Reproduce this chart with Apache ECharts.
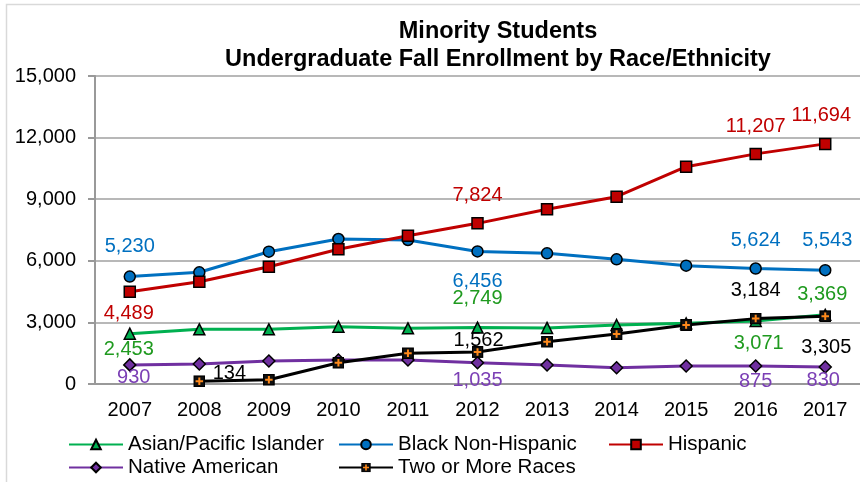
<!DOCTYPE html>
<html>
<head>
<meta charset="utf-8">
<script src="https://cdn.jsdelivr.net/npm/echarts@6/dist/echarts.min.js"></script>
<style>
html,body{margin:0;padding:0;background:#fff;}
#chart{width:860px;height:482px;}
</style>
</head>
<body>
<div id="chart"></div>
<script>
const years = ['2007','2008','2009','2010','2011','2012','2013','2014','2015','2016','2017'];
const yTicks = [0, 3000, 6000, 9000, 12000, 15000];
const asian = [2453, 2663, 2663, 2792, 2711, 2749, 2730, 2873, 2955, 3071, 3369];
const black = [5230, 5440, 6443, 7062, 7013, 6456, 6365, 6073, 5763, 5624, 5543];
const hispanic = [4489, 4982, 5713, 6560, 7223, 7824, 8508, 9122, 10583, 11207, 11694];
const native = [930, 974, 1120, 1169, 1169, 1035, 925, 794, 877, 875, 830];
const twoPlus = [null, 134, 210, 1038, 1494, 1562, 2062, 2435, 2873, 3184, 3305];

const FONT = "'Liberation Sans', Arial, sans-serif";

// label placement (styling): index -> [dx, dy]
const labelPos = {
  asian: {0:[-1,16], 5:[0,-29], 9:[3,23], 10:[-3,-20]},
  black: {0:[0,-30], 5:[0,30], 9:[0,-28], 10:[2,-30]},
  hispanic: {0:[-1,22], 5:[0,-28], 9:[0,-27], 10:[-4,-28]},
  native: {0:[4,13], 5:[0,18], 9:[0,15], 10:[-2,14]},
  twoPlus: {1:[30,-8], 5:[1,-11], 9:[0,-28], 10:[1,31]}
};

function buildData(arr, key, color) {
  return arr.map((v, i) => {
    const p = labelPos[key][i];
    if (v == null) return null;
    if (!p) return v;
    return {
      value: v,
      label: {
        show: true, position: 'inside', offset: p, color: color,
        fontSize: 20, fontFamily: FONT,
        formatter: (d) => Number(d.value).toLocaleString('en-US')
      }
    };
  });
}

const twoSym = 'image://data:image/svg+xml;charset=utf-8,' + encodeURIComponent(
  "<svg xmlns='http://www.w3.org/2000/svg' width='24' height='24'>" +
  "<rect x='1.5' y='1.5' width='21' height='21' fill='#111' stroke='#000' stroke-width='3'/>" +
  "<path d='M12 4.5V19.5M4.5 12H19.5' stroke='#ff8a1c' stroke-width='4'/></svg>");

function mkSeries(name, arr, key, lineColor, labelColor, symbol, fill, size) {
  return {
    name: name, type: 'line', data: buildData(arr, key, labelColor),
    symbol: symbol, symbolSize: size, showSymbol: true, connectNulls: false,
    lineStyle: {color: lineColor, width: 3},
    itemStyle: {color: fill, borderColor: '#000', borderWidth: 1.5},
    label: {show: false},
    emphasis: {disabled: true},
    animation: false
  };
}

const series = [
  mkSeries('Asian/Pacific Islander', asian, 'asian', '#00b050', '#1f9a1f', 'triangle', '#00b050', 11),
  mkSeries('Black Non-Hispanic', black, 'black', '#0070c0', '#0070c0', 'circle', '#0070c0', 11),
  mkSeries('Hispanic', hispanic, 'hispanic', '#c00000', '#c00000', 'rect', '#c00000', 11),
  mkSeries('Native American', native, 'native', '#7030a0', '#7b3fb5', 'diamond', '#7030a0', 12),
  mkSeries('Two or More Races', twoPlus, 'twoPlus', '#000000', '#000000', twoSym, '#000', 12)
];

function leg(name, left, top) {
  return {
    data: [name], left: left, top: top, itemWidth: 54, itemHeight: 12, itemGap: 0,
    padding: 0, selectedMode: false,
    textStyle: {fontSize: 20.5, fontFamily: FONT, color: '#000', padding: [0,0,0,0]}
  };
}

const chart = echarts.init(document.getElementById('chart'), null, {renderer: 'canvas'});
chart.setOption({
  backgroundColor: '#fff',
  animation: false,
  title: {
    text: 'Minority Students\nUndergraduate Fall Enrollment by Race/Ethnicity',
    left: 493, textAlign: 'center', top: 13,
    textStyle: {fontSize: 23.5, fontWeight: 'bold', fontFamily: FONT, color: '#000', lineHeight: 28}
  },
  graphic: [{
    type: 'rect', shape: {x: 6.5, y: 4.5, width: 900, height: 520},
    style: {fill: 'none', stroke: '#d9d9d9', lineWidth: 1.5}, silent: true, z: -1
  }],
  legend: [
    leg('Asian/Pacific Islander', 68, 434),
    leg('Black Non-Hispanic', 338, 434),
    leg('Hispanic', 608, 434),
    leg('Native American', 68, 457),
    leg('Two or More Races', 338, 457)
  ],
  grid: {left: 95, right: -5, top: 76, bottom: 98, containLabel: false},
  xAxis: {
    type: 'category', data: years, boundaryGap: true,
    axisLine: {lineStyle: {color: '#999', width: 2}},
    axisTick: {show: false},
    axisLabel: {fontSize: 20, fontFamily: FONT, color: '#000', margin: 16}
  },
  yAxis: {
    type: 'value', min: yTicks[0], max: yTicks[yTicks.length-1], interval: 3000,
    axisLine: {show: true, lineStyle: {color: '#999', width: 2}},
    axisTick: {show: true, length: 7, lineStyle: {color: '#999', width: 2}},
    splitLine: {lineStyle: {color: '#a0a0a0', width: 1.5}},
    axisLabel: {fontSize: 20, fontFamily: FONT, color: '#000', margin: 19,
      formatter: (v) => Number(v).toLocaleString('en-US')}
  },
  series: series
});
</script>
</body>
</html>
